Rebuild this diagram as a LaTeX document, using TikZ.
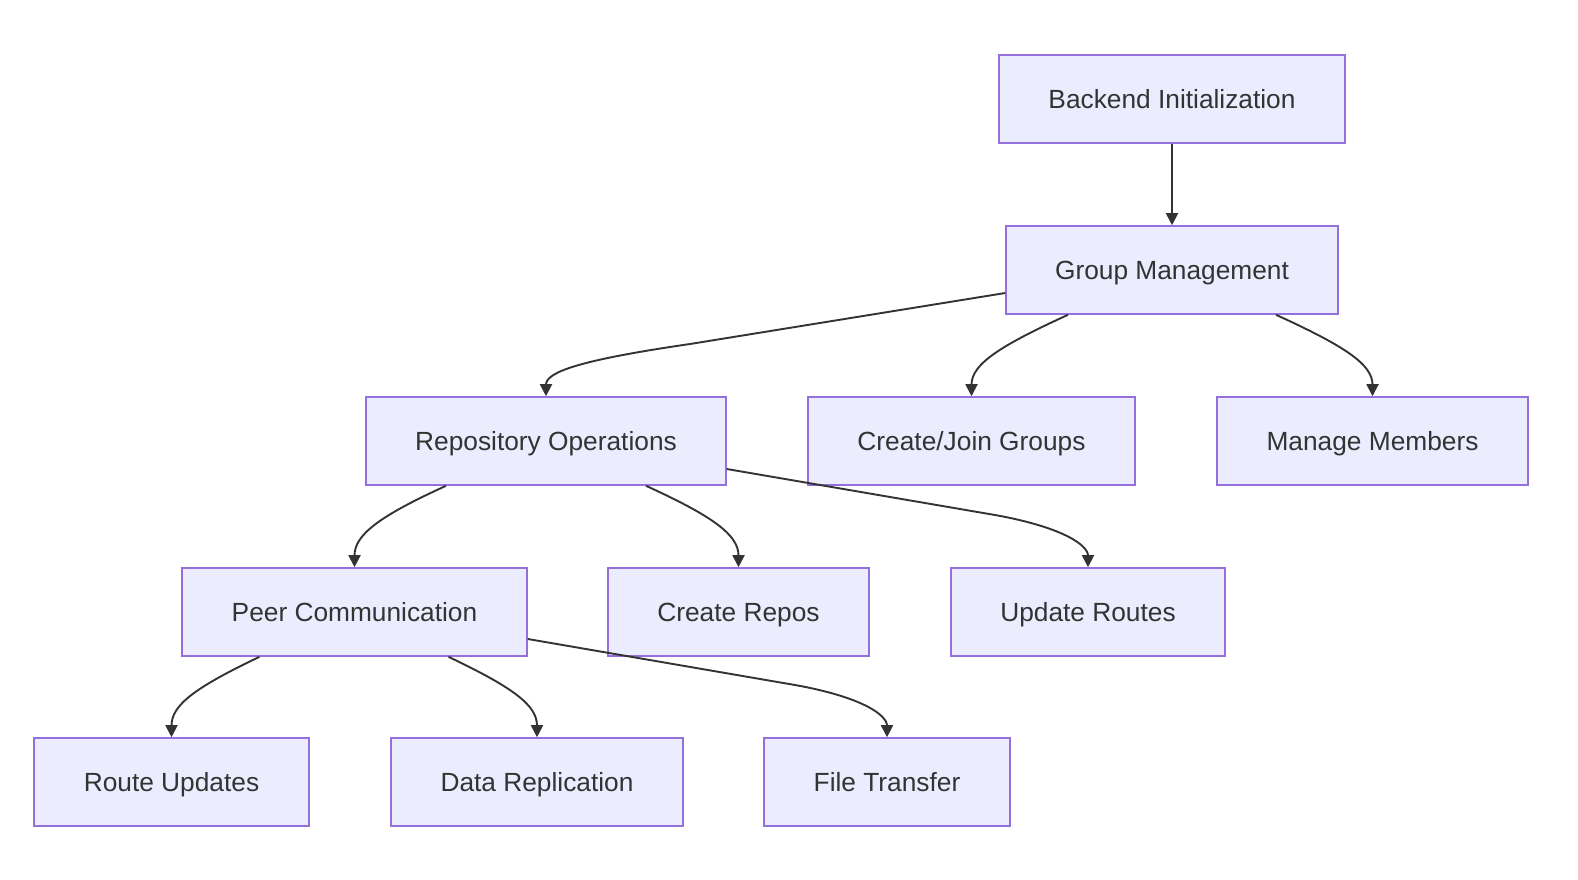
\documentclass[tikz,border=0pt]{standalone}
\usepackage{fontspec}
\setmainfont{Liberation Sans}
\usetikzlibrary{arrows.meta}
\definecolor{boxfill}{HTML}{ECECFF}
\definecolor{boxline}{HTML}{9370DB}
\definecolor{edgecol}{HTML}{333333}
\definecolor{txt}{HTML}{333333}
\tikzset{
  box/.style={draw=boxline, fill=boxfill, line width=0.8pt, rectangle,
    minimum height=44pt, inner sep=0pt, text=txt,
    text height=12pt, text depth=2.6pt,
    font=\fontsize{13.15pt}{16pt}\selectfont},
  edge/.style={draw=edgecol, line width=0.95pt,
    -{Triangle[length=6pt,width=6pt]}}
}
\begin{document}
\begin{tikzpicture}[x=0.5pt,y=-0.5pt]
\useasboundingbox (0,0) rectangle (1578,879);
\fill[white] (0,0) rectangle (1578,879);
% nodes
\node[box, minimum width=173pt] (bi) at (1172,99) {Backend Initialization};
\node[box, minimum width=166pt] (gm) at (1172,270) {Group Management};
\node[box, minimum width=180pt] (ro) at (546,441) {Repository Operations};
\node[box, minimum width=163.5pt] (cj) at (971.5,441) {Create/Join Groups};
\node[box, minimum width=155.5pt] (mm) at (1372.5,441) {Manage Members};
\node[box, minimum width=172.5pt] (pc) at (354.5,612) {Peer Communication};
\node[box, minimum width=130.5pt] (cr) at (738.5,612) {Create Repos};
\node[box, minimum width=137pt] (ur) at (1088,612) {Update Routes};
\node[box, minimum width=137.5pt] (ru) at (171.5,782) {Route Updates};
\node[box, minimum width=146pt] (dr) at (537,782) {Data Replication};
\node[box, minimum width=123pt] (ft) at (887,782) {File Transfer};
% edges
\draw[edge] (bi) -- (gm);
\draw[edge] ([yshift=-11.5pt]gm.west) -- (690,344) .. controls (580,360) and (546,372) .. (ro.north);
\draw[edge] ([xshift=-52pt]gm.south) .. controls +(-68,31) and +(0,-32) .. (cj.north);
\draw[edge] ([xshift=52pt]gm.south) .. controls +(68,31) and +(0,-32) .. (mm.north);
\draw[edge] ([xshift=-50pt]ro.south) .. controls +(-68,31) and +(0,-32) .. (pc.north);
\draw[edge] ([xshift=50pt]ro.south) .. controls +(68,31) and +(0,-32) .. (cr.north);
\draw[edge] ([yshift=-14pt]ro.east) -- (995,515) .. controls (1062,527) and (1088,545) .. (ur.north);
\draw[edge] ([xshift=-47.5pt]pc.south) .. controls +(-65,31) and +(0,-32) .. (ru.north);
\draw[edge] ([xshift=47pt]pc.south) .. controls +(65,31) and +(0,-32) .. (dr.north);
\draw[edge] ([yshift=-13.5pt]pc.east) -- (795,685) .. controls (862,697) and (887,715) .. (ft.north);
\end{tikzpicture}
\end{document}
